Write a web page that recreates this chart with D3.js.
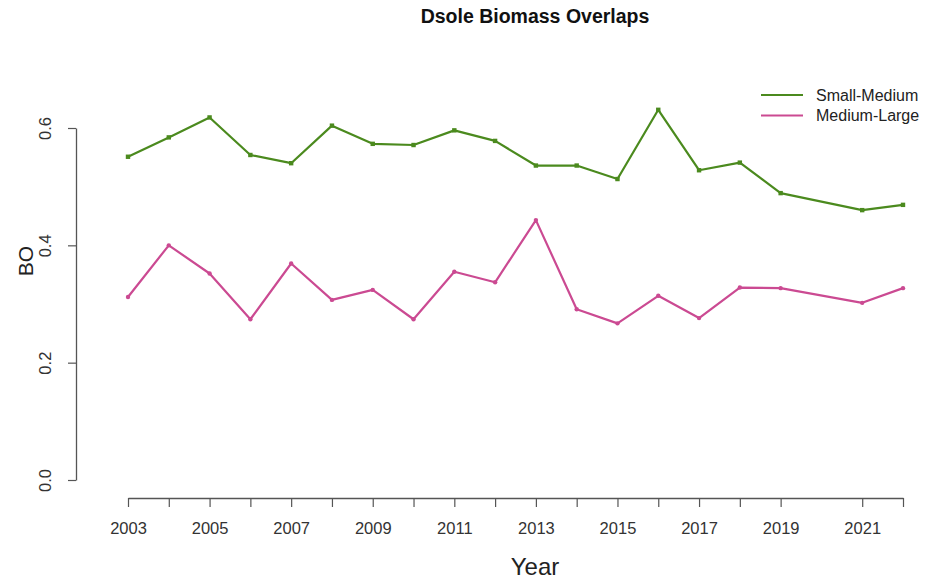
<!DOCTYPE html>
<html>
<head>
<meta charset="utf-8">
<script src="https://cdn.jsdelivr.net/npm/d3@7"></script>
<style>
  html, body { margin: 0; padding: 0; background: #fff; }
  svg { display: block; font-family: "Liberation Sans", Arial, sans-serif; }
</style>
</head>
<body>
<svg id="chart" width="936" height="585"></svg>
<script>
const years = [2003,2004,2005,2006,2007,2008,2009,2010,2011,2012,2013,2014,2015,2016,2017,2018,2019,2021,2022];
const smallMedium = [0.551,0.584,0.618,0.554,0.540,0.604,0.573,0.571,0.596,0.578,0.536,0.536,0.513,0.631,0.528,0.541,0.489,0.460,0.469];
const mediumLarge = [0.312,0.400,0.352,0.274,0.369,0.307,0.324,0.274,0.355,0.337,0.443,0.291,0.267,0.314,0.276,0.328,0.327,0.302,0.327];
const seriesNames = ["Small-Medium", "Medium-Large"];
const seriesColors = ["#4b8a1e", "#cb4a92"];
const yTicks = [0.0, 0.2, 0.4, 0.6];
const xLabelYears = [2003,2005,2007,2009,2011,2013,2015,2017,2019,2021];
const title = "Dsole Biomass Overlaps";
const xTitle = "Year";
const yTitle = "BO";

const svg = d3.select("#chart");
const x = d3.scaleLinear().domain([2003, 2022]).range([128, 903]);
const y = d3.scaleLinear().domain([0, 0.6]).range([480, 128]);

// Title
svg.append("text").attr("x", 535).attr("y", 23).attr("text-anchor", "middle")
  .attr("font-size", 19.5).attr("font-weight", "bold").attr("fill", "#111").text(title);

// X axis
const xAxis = d3.axisBottom(x).tickValues(years).tickSizeOuter(0).tickSizeInner(9)
  .tickFormat(d => xLabelYears.includes(d) ? String(d) : "");
const gx = svg.append("g").attr("transform", "translate(0,498)").call(xAxis);
gx.select(".domain").attr("stroke", "#555").attr("stroke-width", 1.3);
gx.selectAll(".tick line").attr("stroke", "#555").attr("stroke-width", 1.2);
gx.selectAll(".tick text").attr("font-size", 16.5).attr("fill", "#333").attr("dy", 0).attr("y", 36)
  .attr("font-family", "Liberation Sans, Arial, sans-serif");

// Y axis
const yAxis = d3.axisLeft(y).tickValues(yTicks).tickSizeOuter(0).tickSizeInner(8)
  .tickFormat(d3.format(".1f"));
const gy = svg.append("g").attr("transform", "translate(76,0)").call(yAxis);
gy.select(".domain").attr("stroke", "#555").attr("stroke-width", 1.3);
gy.selectAll(".tick line").attr("stroke", "#555").attr("stroke-width", 1.2);
gy.selectAll(".tick text").attr("font-size", 16.5).attr("fill", "#333")
  .attr("x", null).attr("dy", null).attr("text-anchor", "middle")
  .attr("transform", "translate(-31,0) rotate(-90)")
  .attr("y", 0).attr("dominant-baseline", "central")
  .attr("font-family", "Liberation Sans, Arial, sans-serif");

// Axis titles
svg.append("text").attr("x", 535).attr("y", 575).attr("text-anchor", "middle")
  .attr("font-size", 24).attr("fill", "#222").text(xTitle);
svg.append("text").attr("transform", "translate(33,261) rotate(-90)").attr("text-anchor", "middle")
  .attr("font-size", 21).attr("fill", "#222").text(yTitle);

// Lines
const allSeries = [smallMedium, mediumLarge];
const line = d3.line().x((d, i) => x(years[i])).y(d => y(d));
allSeries.forEach((vals, k) => {
  svg.append("path").datum(vals).attr("d", line).attr("fill", "none")
    .attr("stroke", seriesColors[k]).attr("stroke-width", 2.2).attr("stroke-linejoin", "round");
  if (k === 0) {
    svg.selectAll(".pt" + k).data(vals).enter().append("rect")
      .attr("x", (d, i) => x(years[i]) - 2.2).attr("y", d => y(d) - 2.2)
      .attr("width", 4.4).attr("height", 4.4).attr("fill", seriesColors[k]);
  } else {
    svg.selectAll(".pt" + k).data(vals).enter().append("circle")
      .attr("cx", (d, i) => x(years[i])).attr("cy", d => y(d)).attr("r", 2.2)
      .attr("fill", seriesColors[k]);
  }
});

// Legend
const lg = svg.append("g");
seriesNames.forEach((name, k) => {
  const ly = 95 + k * 20.5;
  lg.append("line").attr("x1", 761).attr("x2", 803).attr("y1", ly).attr("y2", ly)
    .attr("stroke", seriesColors[k]).attr("stroke-width", 2);
  lg.append("text").attr("x", 816).attr("y", ly + 5.5).attr("font-size", 16)
    .attr("fill", "#222").text(name);
});
</script>
</body>
</html>
